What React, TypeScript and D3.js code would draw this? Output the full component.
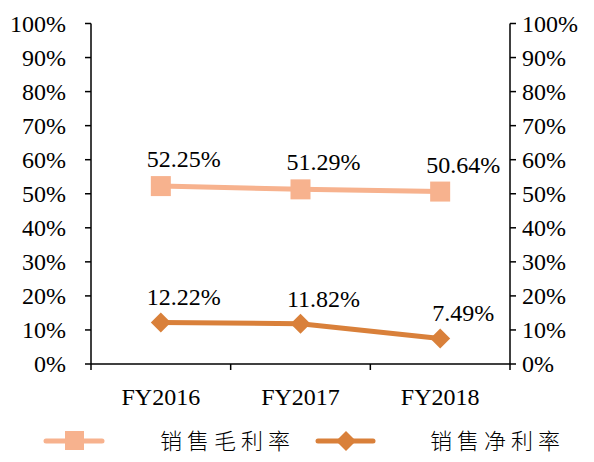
import React from "react";
import * as d3 from "d3";

const categories = ["FY2016", "FY2017", "FY2018"];
const grossMargin = [52.25, 51.29, 50.64];
const netMargin = [12.22, 11.82, 7.49];
const yTicks = [0, 10, 20, 30, 40, 50, 60, 70, 80, 90, 100];
const seriesNames = ["销售毛利率", "销售净利率"];

const W = 594, H = 462;
const left = 91, right = 510, top = 23.5, bottom = 364;
const lightColor = "#F7B28E";
const darkColor = "#D9803A";
const serif = "'Liberation Serif', 'Times New Roman', serif";

export default function App() {
  const x = d3.scaleBand<string>().domain(categories).range([left, right]);
  const y = d3.scaleLinear().domain([0, 100]).range([bottom, top]);
  const cx = (c: string) => (x(c) as number) + x.bandwidth() / 2;
  const line = d3.line<number>().x((_, i) => cx(categories[i])).y((d) => y(d));
  const bounds = [...categories.map((c) => x(c) as number), right];
  const fs = 24;
  const diamond = (px: number, py: number, r: number) =>
    `M${px},${py - r}L${px + r},${py}L${px},${py + r}L${px - r},${py}Z`;

  return (
    <svg width={W} height={H} style={{ position: "absolute", left: 0, top: 0 }}>
      <rect width={W} height={H} fill="#fff" />
      <line x1={left} x2={left} y1={top} y2={bottom} stroke="#000" strokeWidth={1.5} />
      <line x1={right} x2={right} y1={top} y2={bottom} stroke="#000" strokeWidth={1.5} />
      <line x1={left} x2={right} y1={bottom} y2={bottom} stroke="#000" strokeWidth={1.5} />
      {yTicks.map((t) => (
        <g key={t}>
          <line x1={left - 6} x2={left} y1={y(t)} y2={y(t)} stroke="#000" strokeWidth={1.5} />
          <line x1={right} x2={right + 6} y1={y(t)} y2={y(t)} stroke="#000" strokeWidth={1.5} />
          <text x={66} y={y(t)} dy="0.35em" textAnchor="end" fontFamily={serif} fontSize={fs}>{t}%</text>
          <text x={522} y={y(t)} dy="0.35em" textAnchor="start" fontFamily={serif} fontSize={fs}>{t}%</text>
        </g>
      ))}
      {bounds.map((b, i) => (
        <line key={i} x1={b} x2={b} y1={bottom} y2={bottom + 6} stroke="#000" strokeWidth={1.5} />
      ))}
      {categories.map((c) => (
        <text key={c} x={cx(c)} y={405} textAnchor="middle" fontFamily={serif} fontSize={fs}>{c}</text>
      ))}
      <path d={line(grossMargin) || ""} fill="none" stroke={lightColor} strokeWidth={5} />
      {grossMargin.map((v, i) => (
        <g key={i}>
          <rect x={cx(categories[i]) - 10} y={y(v) - 10} width={20} height={20} fill={lightColor} />
          <text x={cx(categories[i]) + 23} y={y(v) - 19} textAnchor="middle" fontFamily={serif} fontSize={fs}>{v.toFixed(2)}%</text>
        </g>
      ))}
      <path d={line(netMargin) || ""} fill="none" stroke={darkColor} strokeWidth={5} />
      {netMargin.map((v, i) => (
        <g key={i}>
          <path d={diamond(cx(categories[i]), y(v), 10)} fill={darkColor} />
          <text x={cx(categories[i]) + 23} y={y(v) - 17} textAnchor="middle" fontFamily={serif} fontSize={fs}>{v.toFixed(2)}%</text>
        </g>
      ))}
      <g>
        <line x1={46} x2={102} y1={441} y2={441} stroke={lightColor} strokeWidth={5} strokeLinecap="round" />
        <rect x={65} y={431} width={19} height={19} fill={lightColor} />
        <text x={160} y={449} fontFamily="'Noto Sans CJK SC', sans-serif" fontSize={22} fontWeight={300} letterSpacing={5}>{seriesNames[0]}</text>
        <line x1={318} x2={373} y1={441} y2={441} stroke={darkColor} strokeWidth={5} strokeLinecap="round" />
        <path d={diamond(346, 441, 10)} fill={darkColor} />
        <text x={430} y={449} fontFamily="'Noto Sans CJK SC', sans-serif" fontSize={22} fontWeight={300} letterSpacing={5}>{seriesNames[1]}</text>
      </g>
    </svg>
  );
}
